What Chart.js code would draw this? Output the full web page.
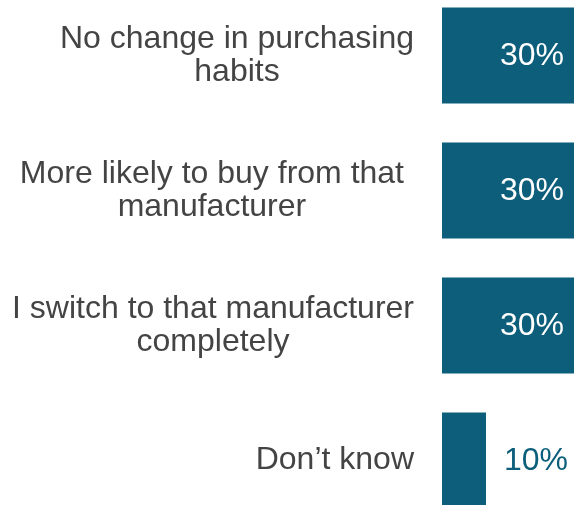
<!DOCTYPE html>
<html>
<head>
<meta charset="utf-8">
<script src="https://cdn.jsdelivr.net/npm/chart.js@4"></script>
<style>
  html, body { margin: 0; padding: 0; background: #fff; overflow: hidden; }
  #wrap { position: relative; width: 574px; height: 505px; overflow: hidden; }
  #wrap canvas { position: absolute; left: 0; top: -12px; }
</style>
</head>
<body>
<div id="wrap"><canvas id="barChart" width="574" height="540"></canvas></div>
<script>
// chart data
const categories = [
  ["No change in purchasing", "habits"],
  ["More likely to buy from that", "manufacturer"],
  ["I switch to that manufacturer", "completely"],
  ["Don\u2019t know"]
];
const shares = [30, 30, 30, 10];
const valueLabels = ["30%", "30%", "30%", "10%"];

const barColor = '#0C5E7A';
const fontFamily = '"Liberation Sans", Arial, sans-serif';

// category labels, each block right aligned, lines centred inside it
const labelPlugin = {
  id: 'sideLabels',
  afterDraw(chart) {
    const ctx = chart.ctx;
    const y = chart.scales.y;
    const rights = [414, 404, 414, 414], lineH = 33;
    ctx.save();
    ctx.font = '32px ' + fontFamily;
    ctx.fillStyle = '#444444';
    ctx.textAlign = 'center';
    ctx.textBaseline = 'middle';
    categories.forEach((lines, i) => {
      const w = Math.max(...lines.map(l => ctx.measureText(l).width));
      const cx = rights[i] - w / 2;
      const cy = y.getPixelForValue(i);
      const top = cy - (lines.length - 1) * lineH / 2;
      lines.forEach((l, j) => ctx.fillText(l, cx, top + j * lineH));
    });
    ctx.restore();
  }
};

// value labels: inside end for wide bars, outside for short ones
const valuePlugin = {
  id: 'valueLabels',
  afterDatasetsDraw(chart) {
    const ctx = chart.ctx;
    const meta = chart.getDatasetMeta(0);
    ctx.save();
    ctx.font = '32px ' + fontFamily;
    ctx.textBaseline = 'middle';
    meta.data.forEach((bar, i) => {
      const w = bar.x - bar.base;
      if (w > 80) {
        ctx.fillStyle = '#ffffff';
        ctx.textAlign = 'right';
        ctx.fillText(valueLabels[i], bar.x - 10, bar.y + 1);
      } else {
        ctx.fillStyle = barColor;
        ctx.textAlign = 'left';
        ctx.fillText(valueLabels[i], bar.x + 18, bar.y + 1);
      }
    });
    ctx.restore();
  }
};

const ctxB = document.getElementById('barChart').getContext('2d');
const chart = new Chart(ctxB, {
  type: 'bar',
  data: {
    labels: categories,
    datasets: [{
      data: shares,
      backgroundColor: barColor,
      borderWidth: 0,
      barPercentage: 0.71,
      categoryPercentage: 1
    }]
  },
  options: {
    indexAxis: 'y',
    responsive: false,
    animation: false,
    layout: { padding: { left: 442, right: 0, top: 0, bottom: 0 } },
    plugins: { legend: { display: false }, tooltip: { enabled: false } },
    scales: {
      x: { display: false, min: 0, max: 30 },
      y: { display: false }
    }
  },
  plugins: [labelPlugin, valuePlugin]
});
</script>
</body>
</html>
